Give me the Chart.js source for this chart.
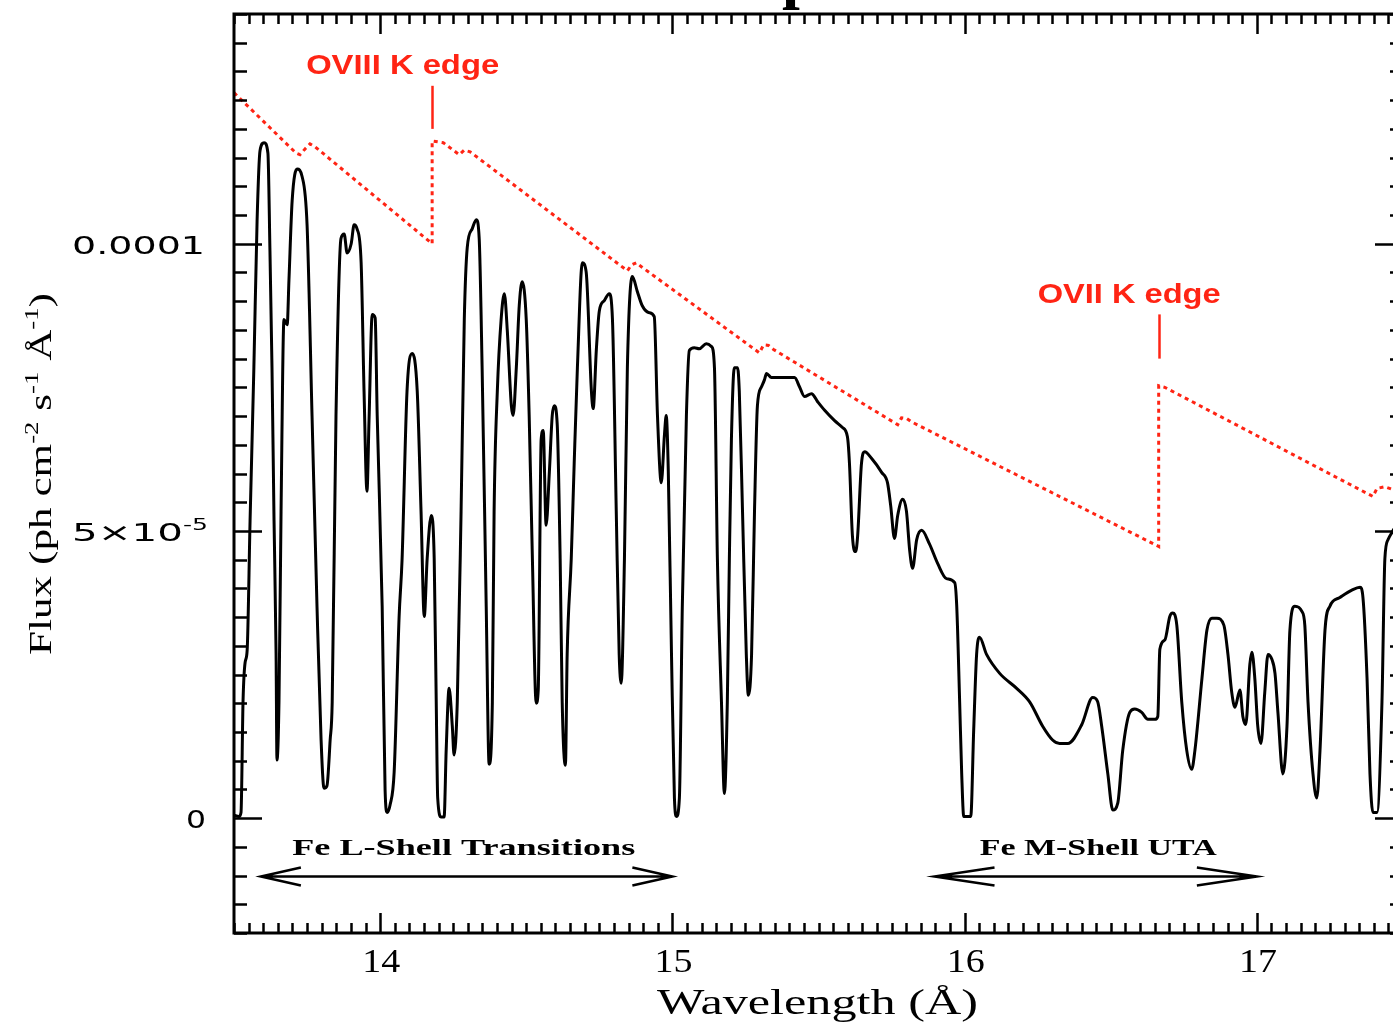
<!doctype html>
<html lang="en">
<head>
<meta charset="utf-8">
<title>Fe L / M shell absorption spectrum</title>
<style>
  * { margin: 0; padding: 0; }
  html, body { width: 1393px; height: 1023px; overflow: hidden; background: #fff; }
  canvas { display: block; }
</style>
</head>
<body>
<canvas id="spec" width="1420" height="1023"></canvas>
<script src="https://cdn.jsdelivr.net/npm/chart.js"></script>
<script>
// model spectrum (flux in units of 1e-5 ph cm-2 s-1 A-1)
const wavelength = [
  13.500, 13.517, 13.524, 13.531, 13.538, 13.545, 13.555, 13.568, 13.579, 13.589,
  13.603, 13.616, 13.623, 13.630, 13.637, 13.644, 13.647, 13.654, 13.661, 13.671,
  13.682, 13.688, 13.699, 13.716, 13.733, 13.750, 13.767, 13.784, 13.798, 13.808,
  13.818, 13.829, 13.836, 13.849, 13.866, 13.877, 13.887, 13.901, 13.911, 13.921,
  13.935, 13.945, 13.955, 13.962, 13.973, 13.983, 13.990, 14.007, 14.017, 14.024,
  14.034, 14.048, 14.065, 14.075, 14.092, 14.110, 14.127, 14.140, 14.151, 14.161,
  14.175, 14.185, 14.192, 14.197, 14.209, 14.219, 14.226, 14.236, 14.247, 14.253,
  14.264, 14.277, 14.288, 14.298, 14.315, 14.329, 14.339, 14.349, 14.363, 14.373,
  14.384, 14.390, 14.401, 14.414, 14.425, 14.435, 14.449, 14.455, 14.466, 14.476,
  14.486, 14.500, 14.510, 14.521, 14.534, 14.541, 14.551, 14.558, 14.568, 14.579,
  14.589, 14.596, 14.606, 14.616, 14.623, 14.634, 14.640, 14.654, 14.664, 14.675,
  14.692, 14.705, 14.723, 14.729, 14.740, 14.750, 14.767, 14.784, 14.795, 14.808,
  14.818, 14.825, 14.836, 14.846, 14.863, 14.880, 14.897, 14.921, 14.938, 14.949,
  14.962, 14.973, 14.979, 14.986, 14.997, 15.007, 15.014, 15.024, 15.034, 15.048,
  15.058, 15.075, 15.092, 15.116, 15.134, 15.144, 15.154, 15.168, 15.178, 15.188,
  15.195, 15.202, 15.212, 15.223, 15.229, 15.240, 15.253, 15.260, 15.271, 15.281,
  15.291, 15.305, 15.315, 15.322, 15.339, 15.418, 15.435, 15.452, 15.476, 15.497,
  15.521, 15.555, 15.582, 15.599, 15.606, 15.616, 15.627, 15.634, 15.647, 15.658,
  15.682, 15.716, 15.736, 15.747, 15.760, 15.771, 15.788, 15.801, 15.812, 15.822,
  15.836, 15.853, 15.880, 15.908, 15.938, 15.966, 15.973, 15.983, 15.990, 15.997,
  16.021, 16.031, 16.041, 16.051, 16.075, 16.120, 16.178, 16.223, 16.267, 16.301,
  16.325, 16.353, 16.401, 16.438, 16.455, 16.469, 16.490, 16.507, 16.524, 16.541,
  16.565, 16.582, 16.606, 16.627, 16.651, 16.661, 16.668, 16.685, 16.702, 16.712,
  16.726, 16.743, 16.760, 16.777, 16.788, 16.812, 16.829, 16.846, 16.863, 16.887,
  16.901, 16.914, 16.925, 16.942, 16.952, 16.962, 16.976, 16.983, 16.993, 17.003,
  17.014, 17.027, 17.038, 17.051, 17.062, 17.072, 17.089, 17.103, 17.113, 17.130,
  17.154, 17.164, 17.175, 17.192, 17.205, 17.216, 17.233, 17.250, 17.284, 17.325,
  17.353, 17.363, 17.377, 17.387, 17.397, 17.411, 17.428, 17.438, 17.449, 17.462,
  17.480, 17.500
];
const flux = [
  0.05, 0.03, 0.10, 2.05, 2.71, 2.92, 5.18, 7.84, 10.40, 11.62,
  11.76, 11.58, 9.88, 7.84, 5.18, 2.85, 1.01, 2.05, 5.34, 8.68,
  8.59, 9.36, 10.75, 11.30, 11.17, 10.33, 7.01, 3.69, 1.36, 0.52,
  0.56, 1.36, 2.02, 7.01, 10.09, 10.17, 9.84, 10.00, 10.33, 10.26,
  9.67, 7.43, 5.69, 6.92, 8.77, 8.71, 7.01, 3.69, 0.49, 0.10,
  0.23, 0.80, 3.51, 4.49, 7.43, 8.09, 7.43, 5.34, 3.51, 4.52,
  5.27, 4.52, 2.02, 0.35, 0.02, 0.02, 1.18, 2.26, 1.60, 1.10,
  2.02, 5.34, 8.68, 9.93, 10.26, 10.42, 10.09, 7.84, 3.69, 0.94,
  2.02, 5.34, 7.43, 8.68, 9.13, 8.50, 7.18, 7.01, 7.84, 8.92,
  9.34, 8.68, 7.01, 4.52, 2.00, 2.23, 6.59, 6.75, 5.10, 6.02,
  7.01, 7.18, 6.85, 4.52, 2.02, 0.92, 2.85, 4.52, 6.17, 7.84,
  9.67, 9.51, 7.43, 7.13, 8.17, 8.83, 9.01, 9.13, 8.68, 5.34,
  2.85, 2.35, 4.52, 7.84, 9.43, 9.17, 8.92, 8.80, 8.73, 7.01,
  5.84, 6.68, 7.01, 6.05, 2.85, 0.35, 0.03, 0.35, 3.69, 7.01,
  8.14, 8.19, 8.17, 8.26, 8.21, 7.84, 4.52, 2.02, 0.43, 2.02,
  4.52, 6.59, 7.84, 7.84, 7.43, 5.34, 2.85, 2.14, 2.85, 5.34,
  7.18, 7.51, 7.63, 7.74, 7.67, 7.67, 7.51, 7.34, 7.39, 7.25,
  7.10, 6.92, 6.80, 6.64, 6.17, 4.92, 4.64, 4.92, 6.17, 6.38,
  6.26, 6.02, 5.84, 5.44, 4.87, 5.27, 5.55, 5.34, 4.66, 4.35,
  4.85, 5.01, 4.77, 4.43, 4.17, 4.10, 3.69, 2.02, 0.77, 0.03,
  0.03, 1.53, 2.85, 3.15, 2.85, 2.52, 2.26, 2.02, 1.60, 1.36,
  1.30, 1.30, 1.63, 2.10, 2.03, 1.60, 0.77, 0.14, 0.26, 1.18,
  1.84, 1.90, 1.84, 1.72, 1.72, 1.77, 2.94, 3.10, 3.51, 3.57,
  3.36, 2.02, 1.18, 0.85, 1.18, 2.43, 3.27, 3.48, 3.48, 3.36,
  2.85, 2.19, 1.93, 2.23, 1.77, 1.63, 2.68, 2.89, 2.43, 1.60,
  1.30, 2.19, 2.85, 2.77, 2.52, 1.84, 0.77, 1.60, 3.27, 3.69,
  3.60, 3.36, 2.02, 0.77, 0.35, 1.18, 3.27, 3.69, 3.84, 3.97,
  4.02, 3.84, 2.43, 0.77, 0.10, 0.10, 2.02, 4.52, 4.85, 4.97,
  5.10, 5.00
];

// unabsorbed continuum with the O VIII and O VII K edges
const contWave = [
  13.500, 13.712, 13.726, 13.743, 13.760, 13.777, 14.178, 14.178, 14.216, 14.271,
  14.288, 14.308, 14.846, 14.860, 14.877, 14.894, 15.298, 15.312, 15.329, 15.346,
  15.771, 15.784, 15.801, 15.818, 16.664, 16.664, 16.685, 17.397, 17.411, 17.438,
  17.466, 17.500
];
const contFlux = [
  12.63, 11.58, 11.55, 11.65, 11.74, 11.69, 10.00, 11.79, 11.76, 11.55,
  11.63, 11.60, 9.53, 9.63, 9.67, 9.60, 8.10, 8.24, 8.23, 8.16,
  6.85, 6.97, 6.96, 6.90, 4.73, 7.53, 7.50, 5.60, 5.74, 5.77,
  5.72, 5.63
];

const xMajorTicks = [14, 15, 16, 17];
const xTickLabels = ['14', '15', '16', '17'];
const yMajorTicks = [0, 5, 10];
const yTickLabels = [['0'], ['5\u00d710', ['-5']], ['0.0001']];
const X_MIN = 13.5, X_MAX = 17.5, X_MINOR = 0.05;
const Y_MIN = -2, Y_MAX = 14, Y_MINOR = 0.5;

const RED = 'rgb(255, 36, 20)';

// text annotations (wavelength, flux)
const edges = [
  { label: 'OVIII K edge', x: 14.178, tx: 14.077, ty: 12.96, y1: 12.75, y2: 12.0, w: 193 },
  { label: 'OVII K edge', x: 16.664, tx: 16.563, ty: 8.97, y1: 8.77, y2: 8.0, w: 183 }
];
const bands = [
  { label: 'Fe L-Shell Transitions', from: 13.592, to: 15.0, tx: 14.286, w: 343, head: 40 },
  { label: 'Fe M-Shell UTA', from: 15.897, to: 17.0, tx: 16.457, w: 237, head: 60 }
];

// draws a run of text pieces (some superscript) squeezed/stretched to a width
function drawRich(ctx, parts, cx, baseY, width, size, family, weight, color, angle) {
    ctx.save();
    const supSize = size * 0.62;
    const fontOf = s => `${weight} ${s}px ${family}`;
    let total = 0;
    const widths = parts.map(p => {
        ctx.font = fontOf(p[1] ? supSize : size);
        const w = ctx.measureText(p[0]).width;
        total += w;
        return w;
    });
    ctx.translate(cx, baseY);
    if (angle) ctx.rotate(angle);
    ctx.scale(width / total, 1);
    ctx.fillStyle = color;
    ctx.textAlign = 'left';
    ctx.textBaseline = 'alphabetic';
    let x = -total / 2;
    parts.forEach((p, i) => {
        ctx.font = fontOf(p[1] ? supSize : size);
        ctx.fillText(p[0], x, p[1] ? -size * 0.42 : 0);
        x += widths[i];
    });
    ctx.restore();
}

const framePlugin = {
    id: 'frame',
    afterDraw(chart) {
        const { ctx, chartArea: a, scales: { x, y } } = chart;
        ctx.save();
        ctx.strokeStyle = '#000';
        ctx.lineCap = 'butt';

        // ticks
        ctx.lineWidth = 2.5;
        ctx.beginPath();
        const nx = Math.round((X_MAX - X_MIN) / X_MINOR);
        for (let i = 0; i <= nx; i++) {
            const v = X_MIN + i * X_MINOR;
            const major = xMajorTicks.some(m => Math.abs(m - v) < 1e-6);
            const len = major ? 20 : 10;
            const px = Math.round(x.getPixelForValue(v)) + 0.5;
            ctx.moveTo(px, a.top); ctx.lineTo(px, a.top + len);
            ctx.moveTo(px, a.bottom); ctx.lineTo(px, a.bottom - len);
        }
        const ny = Math.round((Y_MAX - Y_MIN) / Y_MINOR);
        for (let i = 0; i <= ny; i++) {
            const v = Y_MIN + i * Y_MINOR;
            const major = yMajorTicks.some(m => Math.abs(m - v) < 1e-6);
            const len = major ? 28 : 13;
            const py = Math.round(y.getPixelForValue(v)) + 0.5;
            ctx.moveTo(a.left, py); ctx.lineTo(a.left + len, py);
            ctx.moveTo(a.right, py); ctx.lineTo(a.right - len, py);
        }
        ctx.stroke();

        // box
        ctx.lineWidth = 3;
        ctx.strokeRect(a.left, a.top, a.right - a.left, a.bottom - a.top);

        // tick labels
        xMajorTicks.forEach((v, i) => {
            drawRich(ctx, [[xTickLabels[i]]], x.getPixelForValue(v) + 1, a.bottom + 39, 38,
                33, '"Liberation Serif", serif', 'normal', '#000');
        });
        const yLabelBox = [[196, 20], [140, 136], [138.5, 133]];
        yMajorTicks.forEach((v, i) => {
            const parts = yTickLabels[i].length > 1 ? [[yTickLabels[i][0]], [yTickLabels[i][1][0], true]] : [[yTickLabels[i][0]]];
            drawRich(ctx, parts, yLabelBox[i][0], y.getPixelForValue(v) + 10, yLabelBox[i][1],
                25, '"DejaVu Sans", sans-serif', 'normal', '#000');
        });

        // axis titles
        drawRich(ctx, [['Wavelength (\u00c5)']], (a.left + a.right) / 2 - 1, a.bottom + 81, 321,
            36, '"Liberation Serif", serif', 'normal', '#000');
        drawRich(ctx, [['Flux (ph cm'], ['-2', true], [' s'], ['-1', true], [' \u00c5'], ['-1', true], [')']],
            51, 474, 362, 32, '"Liberation Serif", serif', 'normal', '#000', -Math.PI / 2);

        // title fragment, cut by the top of the page
        ctx.fillStyle = '#000';
        ctx.font = 'bold 64px "Liberation Serif", serif';
        ctx.textAlign = 'left';
        ctx.textBaseline = 'alphabetic';
        ctx.fillText('p', 782, -4);

        // edge markers
        edges.forEach(e => {
            ctx.strokeStyle = RED;
            ctx.lineWidth = 2.5;
            ctx.beginPath();
            const px = Math.round(x.getPixelForValue(e.x)) + 0.5;
            ctx.moveTo(px, y.getPixelForValue(e.y1));
            ctx.lineTo(px, y.getPixelForValue(e.y2));
            ctx.stroke();
            drawRich(ctx, [[e.label]], x.getPixelForValue(e.tx), y.getPixelForValue(e.ty), e.w,
                28, '"Liberation Sans", Arial, sans-serif', 'bold', RED);
        });

        // band arrows
        ctx.strokeStyle = '#000';
        ctx.lineWidth = 2.5;
        bands.forEach(b => {
            const x1 = x.getPixelForValue(b.from), x2 = x.getPixelForValue(b.to);
            const py = Math.round(y.getPixelForValue(-1.01)) + 0.5;
            ctx.beginPath();
            ctx.moveTo(x1, py); ctx.lineTo(x2, py);
            ctx.moveTo(x1 + b.head, py - 9); ctx.lineTo(x1, py); ctx.lineTo(x1 + b.head, py + 9);
            ctx.moveTo(x2 - b.head, py - 9); ctx.lineTo(x2, py); ctx.lineTo(x2 - b.head, py + 9);
            ctx.stroke();
            drawRich(ctx, [[b.label]], x.getPixelForValue(b.tx), y.getPixelForValue(-0.64), b.w,
                24, '"Liberation Serif", serif', 'bold', '#000');
        });
        ctx.restore();
    }
};

new Chart(document.getElementById('spec'), {
    type: 'line',
    data: {
        datasets: [{
            label: 'model',
            data: wavelength.map((w, i) => ({ x: w, y: flux[i] })),
            borderColor: '#000',
            borderWidth: 3,
            pointRadius: 0,
            cubicInterpolationMode: 'monotone'
        }, {
            label: 'continuum',
            data: contWave.map((w, i) => ({ x: w, y: contFlux[i] })),
            borderColor: RED,
            borderWidth: 3,
            borderDash: [4, 4],
            borderCapStyle: 'butt',
            pointRadius: 0,
            tension: 0
        }]
    },
    options: {
        responsive: false,
        animation: false,
        layout: { padding: { left: 234, top: 14, right: 17, bottom: 90 } },
        plugins: { legend: { display: false }, tooltip: { enabled: false } },
        scales: {
            x: { type: 'linear', min: X_MIN, max: X_MAX, display: false },
            y: { min: Y_MIN, max: Y_MAX, display: false }
        }
    },
    plugins: [framePlugin]
});
</script>
</body>
</html>
